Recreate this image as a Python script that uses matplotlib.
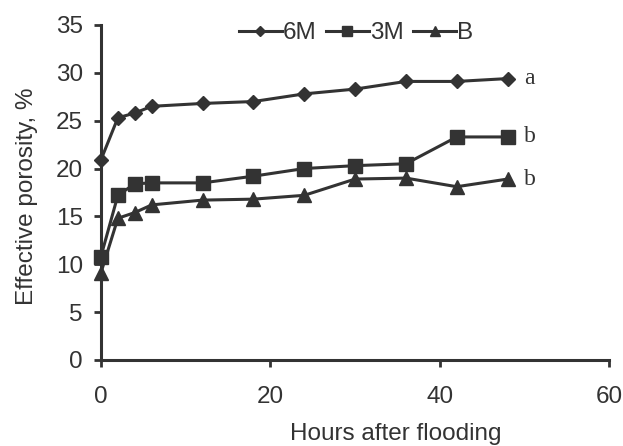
import matplotlib
matplotlib.use('Agg')
import matplotlib.pyplot as plt

hours = [0, 2, 4, 6, 12, 18, 24, 30, 36, 42, 48]
por_6m = [20.9, 25.3, 25.8, 26.5, 26.8, 27.0, 27.8, 28.3, 29.1, 29.1, 29.4]
por_3m = [10.8, 17.2, 18.4, 18.5, 18.5, 19.2, 20.0, 20.3, 20.5, 23.3, 23.3]
por_b = [9.1, 14.8, 15.4, 16.2, 16.7, 16.8, 17.2, 18.9, 19.0, 18.1, 18.9]
series_names = ['6M', '3M', 'B']
letters = ['a', 'b', 'b']

col = '#333333'
plt.rcParams['font.family'] = ['Liberation Sans', 'DejaVu Sans']
fs = 17.5

fig = plt.figure(figsize=(6.23, 4.46), dpi=100)
ax = fig.add_axes([0.162, 0.193, 0.816, 0.751])

markers = ['D', 's', '^']
sizes = [7.5, 9.5, 9.5]
for y, name, m, ms in zip([por_6m, por_3m, por_b], series_names, markers, sizes):
    ax.plot(hours, y, color=col, lw=2.2, marker=m, ms=ms, label=name, clip_on=False)

# significance letters at the line ends
for y, lt in zip([por_6m, por_3m, por_b], letters):
    ax.annotate(lt, (hours[-1], y[-1]), xytext=(12, 0), textcoords='offset points',
                va='center', ha='left', fontsize=17, family='Liberation Serif', color=col)

ax.set_xlim(0, 60)
ax.set_ylim(0, 35)
ax.set_xticks([0, 20, 40, 60])
ax.set_yticks(range(0, 36, 5))
ax.spines['top'].set_visible(False)
ax.spines['right'].set_visible(False)
for s in ['left', 'bottom']:
    ax.spines[s].set_linewidth(2.2)
    ax.spines[s].set_color(col)
ax.tick_params(direction='out', length=5, width=2, color=col, labelsize=fs,
               labelcolor=col, pad=8)
ax.tick_params(axis='x', pad=14)
ax.set_xlabel('Hours after flooding', fontsize=fs, color=col)
ax.set_ylabel('Effective porosity, %', fontsize=fs, color=col)
ax.xaxis.set_label_coords(0.579, -0.188)
ax.yaxis.set_label_coords(-0.124, 0.49)

leg = ax.legend(loc='center', bbox_to_anchor=(0.502, 0.976), ncol=3, frameon=False,
                fontsize=fs, markerscale=0.7, handlelength=1.75, handletextpad=0.05,
                columnspacing=0.4, labelcolor=col)

fig.savefig('out.png', dpi=100)
